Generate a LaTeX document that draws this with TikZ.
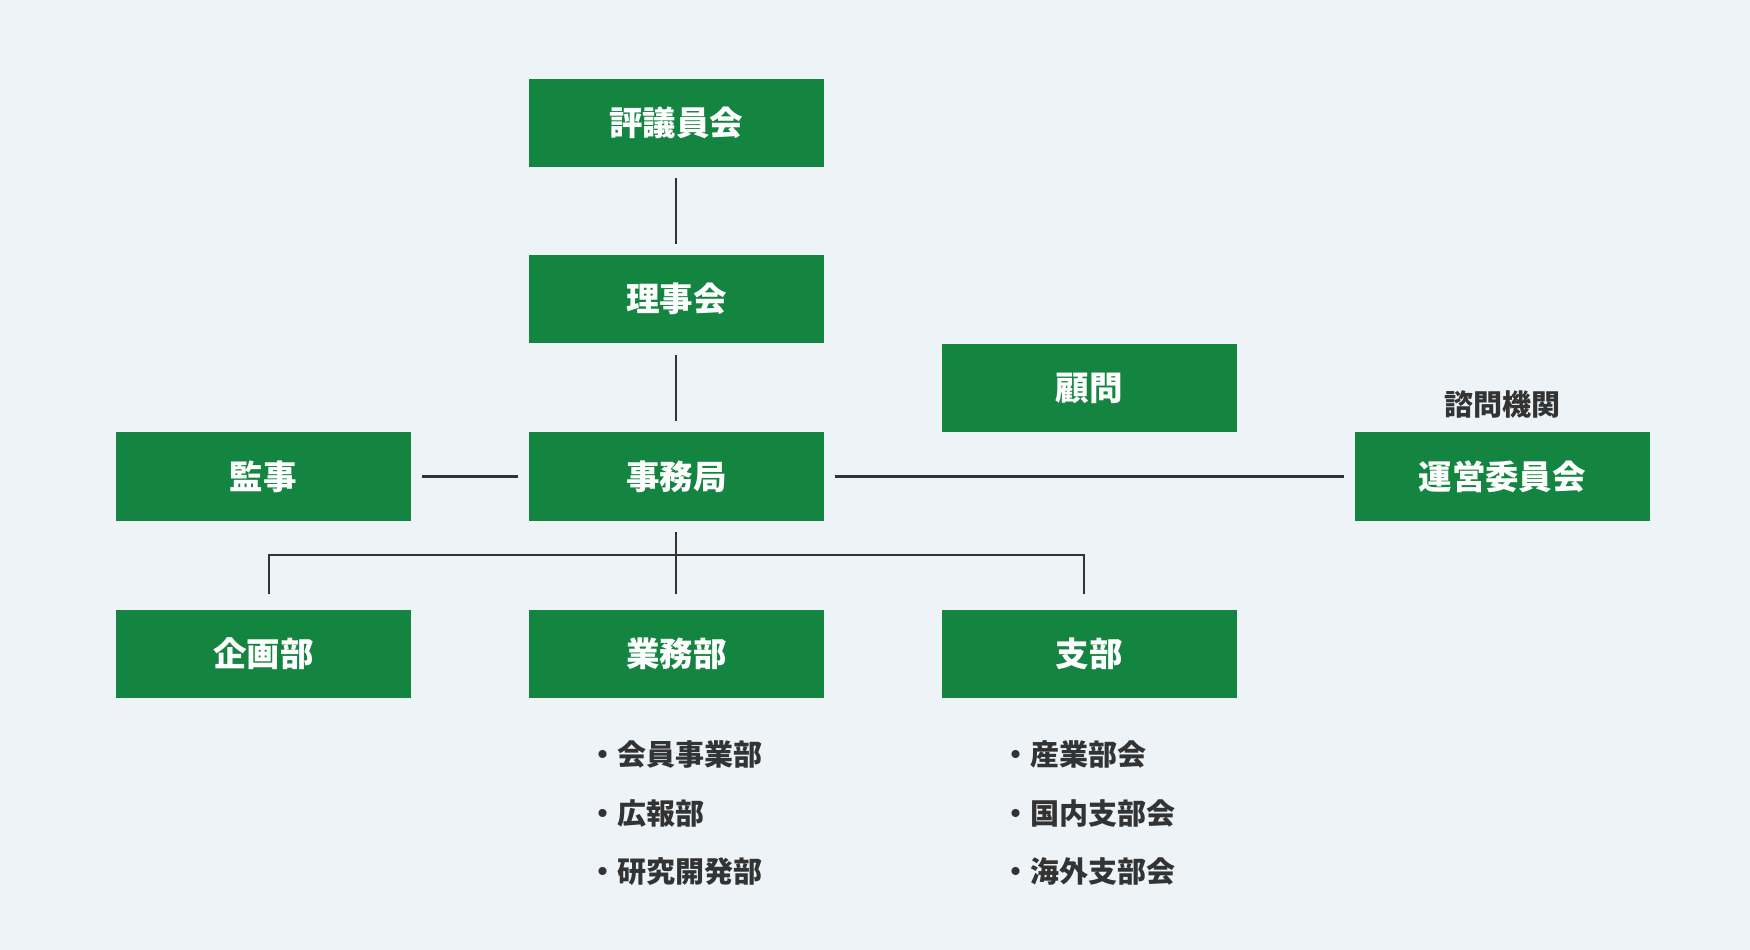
\documentclass[tikz,border=0pt]{standalone}
\usepackage{fontspec}
\setmainfont{Noto Sans CJK JP}
\usetikzlibrary{calc, positioning}
\definecolor{bgcol}{HTML}{EEF3F8}
\definecolor{boxgreen}{HTML}{138540}
\definecolor{linecol}{HTML}{333333}
\tikzset{
  unit/.style = {fill=boxgreen, text=white, minimum width=264pt, minimum height=79pt,
    inner sep=0pt, font=\fontsize{30}{30}\selectfont\bfseries},
  link/.style = {draw=linecol, line width=2pt, shorten >=10pt, shorten <=10pt},
  item/.style = {anchor=west, text=linecol, font=\fontsize{26}{26}\selectfont\bfseries},
}
\begin{document}
\begin{tikzpicture}[x=1pt, y=-1pt]
   \fill[bgcol] (0,0) rectangle (1568,851);
   \useasboundingbox (0,0) rectangle (1568,851);
   \node[unit] (council)  at (606,110) {評議員会};
   \node[unit] (board)    at (606,268) {理事会};
   \node[unit] (adviser)  at (976,348) {顧問};
   \node[unit] (auditor)  at (236,427) {監事};
   \node[unit] (office)   at (606,427) {事務局};
   \node[unit] (steering) at (1346,427) {運営委員会};
   \node[unit] (planning) at (236,586) {企画部};
   \node[unit] (business) at (606,586) {業務部};
   \node[unit] (branch)   at (976,586) {支部};
   \node[text=linecol, font=\fontsize{26}{26}\selectfont\bfseries] (advisory)
      at (1346,362) {諮問機関};

   \draw[link] (council.south) -- (board.north);
   \draw[link] (board.south) -- (office.north);
   \draw[link] (auditor.east) -- (office.west);
   \draw[link] (office.east) -- (steering.west);

   % tree under office
   \coordinate (fork) at (606,497);
   \draw[draw=linecol, line width=2pt] ($(office.south)+(0,10)$) -- (fork);
   \draw[draw=linecol, line width=2pt] ($(planning.north)+(5,-14)$) |- (fork)
      -| ($(branch.north)+(-5,-14)$);
   \draw[draw=linecol, line width=2pt] (fork) -- ($(business.north)+(0,-14)$);

   \node[item] (b1) at (524,676) {・会員事業部};
   \node[item] (b2) at (524,729) {・広報部};
   \node[item] (b3) at (524,781) {・研究開発部};
   \node[item] (s1) at (894,676) {・産業部会};
   \node[item] (s2) at (894,729) {・国内支部会};
   \node[item] (s3) at (894,781) {・海外支部会};
\end{tikzpicture}
\end{document}
